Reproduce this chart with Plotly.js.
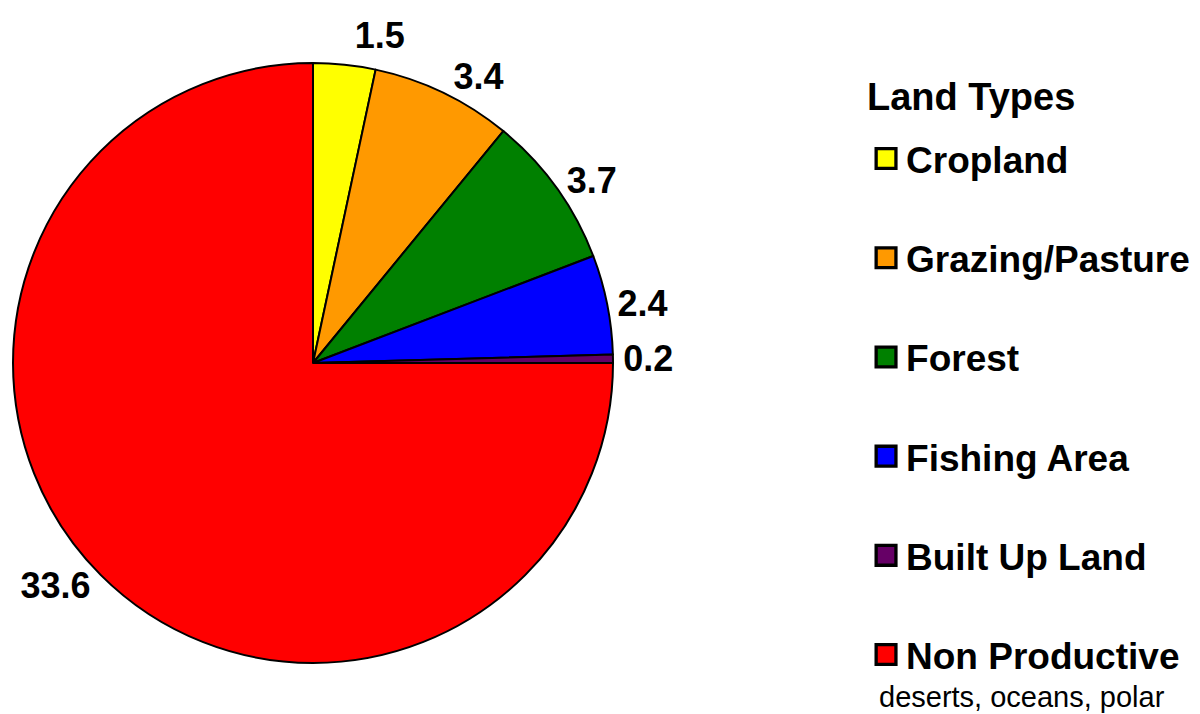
<!DOCTYPE html>
<html>
<head>
<meta charset="utf-8">
<script src="https://cdn.plot.ly/plotly-3.0.1.min.js"></script>
<style>
html, body { margin: 0; padding: 0; background: #fff; }
#chart { width: 1200px; height: 714px; }
.legendpie { transform: translate(20px, 0px) scale(1.65); }
.textline { display: none; }
</style>
</head>
<body>
<div id="chart"></div>
<script>
const categories = ["Cropland", "Grazing/Pasture", "Forest", "Fishing Area", "Built Up Land", "Non Productive"];
const values = [1.5, 3.4, 3.7, 2.4, 0.2, 33.6];
const colors = ["#FFFF00", "#FF9900", "#008000", "#0000FF", "#660066", "#FF0000"];
const legendTitle = "Land Types";
const nonProductiveNote = "deserts, oceans, polar";

// every entry but the last gets a blank second line, giving the wide spacing of the reference legend
const legendLabels = categories.map((c, i) => (i < categories.length - 1 ? c + "<br> " : c));

const FONT = "Liberation Sans, Arial, sans-serif";

const trace = {
  type: "pie",
  labels: legendLabels,
  values: values,
  sort: false,
  direction: "clockwise",
  rotation: 0,
  marker: { colors: colors, line: { color: "#000000", width: 2 } },
  textinfo: "value",
  textposition: "outside",
  texttemplate: "%{value}",
  outsidetextfont: { family: FONT, size: 36, color: "#000", weight: "bold" },
  textfont: { family: FONT, size: 36, color: "#000", weight: "bold" },
  domain: { x: [13 / 1200, 613 / 1200], y: [51 / 714, 651 / 714] },
  hoverinfo: "label+value",
  automargin: false
};

const layout = {
  width: 1200,
  height: 714,
  margin: { l: 0, r: 0, t: 0, b: 0, autoexpand: false },
  paper_bgcolor: "#ffffff",
  showlegend: true,
  legend: {
    font: { family: FONT, size: 37, color: "#000", weight: "bold" },
    x: 0.7217,
    xanchor: "left",
    y: 0.8207,
    yanchor: "top",
    valign: "top",
    bgcolor: "rgba(0,0,0,0)",
    borderwidth: 0
  },
  annotations: [
    {
      text: legendTitle,
      xref: "paper", yref: "paper",
      x: 865 / 1200, xanchor: "left",
      y: 1 - 97 / 714, yanchor: "middle",
      showarrow: false,
      font: { family: FONT, size: 38, color: "#000", weight: "bold" }
    },
    {
      text: nonProductiveNote,
      xref: "paper", yref: "paper",
      x: 877 / 1200, xanchor: "left",
      y: 1 - 697 / 714, yanchor: "middle",
      showarrow: false,
      font: { family: FONT, size: 29, color: "#000" }
    }
  ]
};

Plotly.newPlot("chart", [trace], layout, { displayModeBar: false, staticPlot: true });
</script>
</body>
</html>
